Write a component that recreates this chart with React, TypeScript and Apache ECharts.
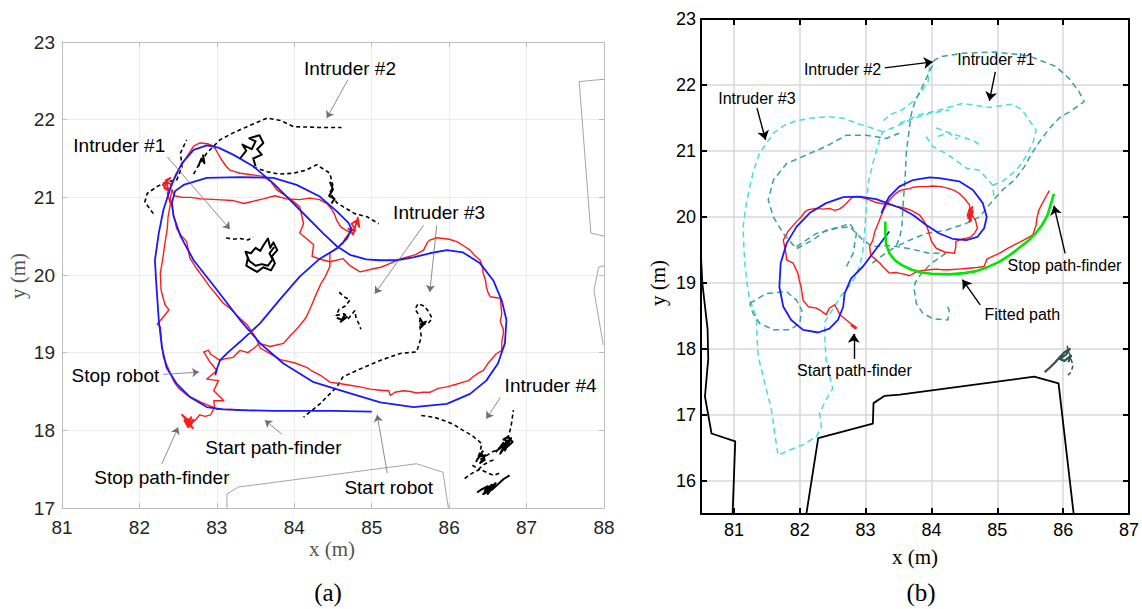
import React, { useEffect, useRef } from "react";
import * as echarts from "echarts";

type P = [number, number];

// ---------- Panel (a) ----------
const xTicksA = [81, 82, 83, 84, 85, 86, 87, 88];
const yTicksA = [17, 18, 19, 20, 21, 22, 23];

const blueA: P[] = [
  [85.0, 18.24], [84.5, 18.25], [84.0, 18.25], [83.73, 18.25], [83.3, 18.26], [83.08, 18.27], [82.87, 18.3],
  [82.65, 18.43], [82.48, 18.6], [82.35, 18.81], [82.29, 19.07], [82.25, 19.42], [82.22, 19.85], [82.2, 20.19],
  [82.25, 20.54], [82.31, 20.84], [82.42, 21.18], [82.55, 21.44], [82.7, 21.61], [82.87, 21.67], [83.02, 21.64],
  [83.21, 21.55], [83.47, 21.4], [83.73, 21.18], [83.94, 20.97], [84.16, 20.75], [84.37, 20.54], [84.55, 20.37],
  [84.72, 20.26], [84.93, 20.2], [85.1, 20.19], [85.32, 20.19], [85.55, 20.23], [85.75, 20.28], [85.97, 20.32],
  [86.18, 20.29], [86.4, 20.15], [86.57, 19.93], [86.68, 19.67], [86.74, 19.42], [86.72, 19.12], [86.63, 18.86],
  [86.48, 18.64], [86.27, 18.47], [85.97, 18.34], [85.54, 18.3], [85.11, 18.36], [84.68, 18.49], [84.25, 18.62],
  [83.86, 18.86], [83.56, 19.12], [83.3, 19.42], [83.0, 19.81], [82.7, 20.19], [82.53, 20.5], [82.44, 20.76],
  [82.42, 20.93], [82.46, 21.08], [82.57, 21.16], [82.87, 21.25], [83.3, 21.26], [83.73, 21.25], [84.03, 21.16],
  [84.33, 21.01], [84.55, 20.82], [84.7, 20.67], [84.74, 20.59], [84.68, 20.47], [84.55, 20.34], [84.33, 20.21],
  [84.07, 19.98], [83.81, 19.68], [83.56, 19.38], [83.3, 19.14], [83.13, 18.99], [83.04, 18.9], [83.0, 18.79],
  [82.98, 18.71],
];

const redA1: P[] = [
  [83.4, 18.26], [83.2, 18.27], [83.0, 18.27], [82.95, 18.3], [82.8, 18.36], [82.62, 18.45], [82.5, 18.55],
  [82.45, 18.62], [82.4, 18.73], [82.35, 18.85], [82.31, 18.94], [82.29, 19.1], [82.27, 19.33], [82.23, 19.37],
  [82.3, 19.45], [82.38, 19.55], [82.33, 19.62], [82.28, 19.8], [82.27, 20.02], [82.3, 20.2], [82.33, 20.41],
  [82.36, 20.6], [82.37, 20.75], [82.4, 20.92], [82.36, 21.05], [82.42, 21.16], [82.47, 21.3], [82.55, 21.42],
  [82.63, 21.55], [82.7, 21.66], [82.78, 21.7], [82.88, 21.69], [82.96, 21.66], [83.0, 21.59], [83.05, 21.5],
  [83.12, 21.4], [83.17, 21.35], [83.3, 21.31], [83.45, 21.29], [83.6, 21.27], [83.7, 21.2], [83.77, 21.1],
  [83.92, 21.0], [84.07, 20.88], [84.12, 20.66], [84.07, 20.54], [84.18, 20.45], [84.25, 20.39], [84.23, 20.24],
  [84.35, 20.2], [84.46, 20.17], [84.63, 20.21], [84.72, 20.12], [84.85, 20.04], [85.02, 20.08], [85.12, 20.1],
  [85.24, 20.15], [85.35, 20.2], [85.45, 20.23], [85.56, 20.26], [85.67, 20.32], [85.72, 20.42], [85.75, 20.45],
  [85.84, 20.48], [85.92, 20.47], [86.0, 20.46], [86.1, 20.43], [86.18, 20.38], [86.27, 20.32], [86.33, 20.25],
  [86.4, 20.19], [86.43, 20.1], [86.44, 20.02], [86.47, 19.93], [86.48, 19.85], [86.5, 19.78], [86.53, 19.72],
  [86.66, 19.7], [86.67, 19.6], [86.68, 19.5], [86.66, 19.4], [86.7, 19.3], [86.7, 19.25], [86.68, 19.14],
  [86.68, 19.03], [86.6, 18.98], [86.57, 18.94], [86.5, 18.86], [86.44, 18.77], [86.38, 18.74], [86.31, 18.69],
  [86.25, 18.64], [86.18, 18.62], [86.08, 18.59], [85.97, 18.56], [85.86, 18.54], [85.75, 18.49], [85.66, 18.49],
  [85.58, 18.48], [85.5, 18.5], [85.41, 18.51], [85.3, 18.49], [85.24, 18.45], [85.22, 18.51], [85.19, 18.51],
  [85.08, 18.52], [84.98, 18.53], [84.85, 18.56], [84.72, 18.58], [84.6, 18.6], [84.46, 18.62], [84.35, 18.7],
  [84.22, 18.77], [84.16, 18.81], [84.0, 18.87], [83.82, 18.91], [83.68, 18.99], [83.56, 19.06], [83.5, 19.2],
  [83.39, 19.36], [83.3, 19.44], [83.17, 19.57], [83.08, 19.64], [83.0, 19.74], [82.9, 19.86], [82.83, 19.96],
  [82.74, 20.08], [82.65, 20.22], [82.63, 20.33], [82.61, 20.43], [82.53, 20.52], [82.48, 20.6], [82.46, 20.7],
  [82.44, 20.77], [82.42, 20.88], [82.4, 20.99], [82.42, 21.1],
];
const redA2: P[] = [
  [82.42, 21.1], [82.45, 21.02], [82.55, 21.0], [82.66, 21.0], [82.8, 20.98], [83.0, 20.97], [83.2, 20.96],
  [83.35, 20.92], [83.43, 20.94], [83.6, 20.98], [83.75, 21.02], [83.9, 20.98], [84.07, 20.97], [84.2, 20.99],
  [84.33, 20.97], [84.42, 20.92], [84.48, 20.85], [84.52, 20.78], [84.55, 20.7], [84.6, 20.62], [84.66, 20.58],
  [84.72, 20.55],
];
const redA3: P[] = [
  [84.72, 20.55], [84.65, 20.46], [84.63, 20.41], [84.55, 20.35], [84.46, 20.28], [84.46, 20.11], [84.4, 19.98],
  [84.35, 19.9], [84.29, 19.77], [84.22, 19.6], [84.15, 19.45], [84.03, 19.3], [83.95, 19.22], [83.86, 19.12],
  [83.69, 19.08], [83.55, 19.12], [83.47, 19.05], [83.4, 19.0], [83.3, 19.03], [83.21, 18.94], [83.1, 18.92],
  [83.04, 18.9], [82.92, 18.98], [82.89, 19.03], [82.83, 19.01], [82.91, 18.88], [83.0, 18.77], [82.87, 18.66],
  [83.02, 18.64], [82.96, 18.51], [83.09, 18.38], [82.96, 18.38], [82.97, 18.3], [82.92, 18.2], [82.85, 18.18],
  [82.78, 18.2], [82.72, 18.13], [82.68, 18.1],
];
const redBlobsA: P[][] = [
  [[82.68, 18.1], [82.6, 18.16], [82.55, 18.2], [82.62, 18.12], [82.66, 18.05], [82.7, 18.14], [82.64, 18.08],
    [82.69, 18.03], [82.61, 18.1], [82.67, 18.17], [82.63, 18.04], [82.58, 18.13], [82.66, 18.11], [82.62, 18.07]],
  [[82.42, 21.16], [82.35, 21.2], [82.32, 21.12], [82.38, 21.08], [82.34, 21.22], [82.4, 21.25], [82.3, 21.16],
    [82.37, 21.1]],
  [[84.72, 20.55], [84.78, 20.6], [84.74, 20.66], [84.8, 20.7], [84.84, 20.62], [84.82, 20.74], [84.76, 20.52],
    [84.7, 20.6], [84.8, 20.57]],
];

const blackDashA: P[][] = [
  [[82.18, 20.79], [82.07, 20.94], [82.1, 21.05], [82.23, 21.14], [82.35, 21.2], [82.48, 21.22], [82.55, 21.39],
    [82.53, 21.57], [82.61, 21.74]],
  [[82.7, 21.3], [82.78, 21.44], [82.87, 21.57], [83.04, 21.74], [83.21, 21.83], [83.39, 21.91], [83.65, 22.02],
    [83.82, 21.99], [83.99, 21.91], [84.33, 21.9], [84.61, 21.9]],
  [[83.47, 21.39], [83.65, 21.33], [83.8, 21.3], [83.99, 21.31], [84.15, 21.35], [84.29, 21.42], [84.46, 21.31],
    [84.5, 21.14], [84.46, 21.06], [84.55, 20.93], [84.63, 20.88], [84.78, 20.79], [84.94, 20.75], [85.09, 20.66]],
  [[83.12, 20.48], [83.2, 20.46], [83.3, 20.47], [83.4, 20.45], [83.47, 20.49]],
  [[84.58, 19.78], [84.64, 19.72], [84.72, 19.68], [84.66, 19.6], [84.58, 19.56], [84.54, 19.48], [84.64, 19.5],
    [84.7, 19.44], [84.78, 19.54], [84.8, 19.44], [84.84, 19.36], [84.86, 19.3]],
  [[85.6, 19.5], [85.56, 19.56], [85.6, 19.63], [85.68, 19.6], [85.74, 19.52], [85.78, 19.44], [85.73, 19.38],
    [85.66, 19.36], [85.62, 19.42], [85.62, 19.37], [85.64, 19.2], [85.58, 19.01], [85.37, 18.99], [85.11, 18.9],
    [84.85, 18.79], [84.63, 18.69], [84.55, 18.56], [84.33, 18.34], [84.12, 18.17]],
  [[85.64, 18.19], [85.8, 18.17], [85.95, 18.12], [86.05, 18.08], [86.18, 18.0], [86.3, 17.93], [86.42, 17.83],
    [86.4, 17.72], [86.35, 17.6], [86.45, 17.65], [86.55, 17.72], [86.65, 17.76], [86.72, 17.82], [86.76, 17.9],
    [86.8, 18.05], [86.83, 18.26]],
  [[86.2, 17.38], [86.3, 17.45], [86.4, 17.5], [86.5, 17.45], [86.58, 17.42], [86.65, 17.45]],
  [[86.3, 17.55], [86.38, 17.5], [86.45, 17.56], [86.52, 17.6], [86.58, 17.62]],
];
const blackScribA: P[][] = [
  [[83.3, 21.5], [83.38, 21.6], [83.33, 21.68], [83.45, 21.62], [83.5, 21.72], [83.42, 21.76], [83.55, 21.8],
    [83.6, 21.7], [83.52, 21.62], [83.58, 21.55], [83.47, 21.5], [83.5, 21.4]],
  [[84.46, 21.2], [84.5, 21.1], [84.45, 21.02], [84.52, 20.98], [84.48, 20.92]],
  [[82.76, 21.4], [82.8, 21.5], [82.84, 21.44], [82.82, 21.55]],
  [[83.37, 20.3], [83.4, 20.22], [83.38, 20.12], [83.45, 20.08], [83.52, 20.04], [83.6, 20.1], [83.7, 20.06],
    [83.75, 20.15], [83.71, 20.24], [83.78, 20.32], [83.73, 20.42], [83.69, 20.35], [83.66, 20.47], [83.6, 20.38],
    [83.56, 20.31], [83.5, 20.35], [83.44, 20.28], [83.37, 20.3], [83.42, 20.18], [83.5, 20.12], [83.58, 20.14],
    [83.66, 20.12], [83.72, 20.2], [83.68, 20.28], [83.74, 20.36]],
  [[84.55, 19.45], [84.62, 19.42], [84.68, 19.46], [84.6, 19.4], [84.66, 19.5]],
  [[85.62, 19.45], [85.66, 19.38], [85.64, 19.33], [85.7, 19.4], [85.62, 19.36]],
  [[86.6, 17.72], [86.68, 17.8], [86.72, 17.74], [86.78, 17.86], [86.7, 17.88], [86.76, 17.92], [86.82, 17.85],
    [86.74, 17.78], [86.7, 17.84], [86.64, 17.76], [86.72, 17.82], [86.8, 17.9], [86.66, 17.7], [86.74, 17.86]],
  [[86.36, 17.62], [86.42, 17.7], [86.46, 17.62], [86.4, 17.58], [86.47, 17.68], [86.38, 17.66], [86.44, 17.74]],
  [[86.36, 17.2], [86.42, 17.24], [86.5, 17.28], [86.46, 17.22], [86.55, 17.3], [86.5, 17.18], [86.6, 17.32],
    [86.52, 17.25], [86.44, 17.18], [86.56, 17.24], [86.7, 17.37], [86.78, 17.42]],
];
const wallsA: P[][] = [
  [[88.0, 22.52], [87.68, 22.49], [87.83, 20.54], [88.0, 20.5]],
  [[88.0, 20.12], [87.93, 20.1], [87.87, 19.8], [87.99, 19.1]],
  [[83.13, 17.0], [83.13, 17.18], [83.28, 17.27], [85.58, 17.57], [85.92, 17.46], [85.99, 17.0]],
];

const labelsA = [
  { text: "Intruder #2", at: [84.72, 22.66] as P, arrows: [[[84.69, 22.51], [84.42, 22.02]]] as P[][] },
  { text: "Intruder #1", at: [81.74, 21.67] as P, arrows: [[[82.36, 21.52], [83.17, 20.59]]] as P[][] },
  { text: "Intruder #3", at: [85.87, 20.81] as P, arrows: [[[85.67, 20.64], [85.04, 19.76]], [[85.84, 20.64], [85.75, 19.78]]] as P[][] },
  { text: "Stop robot", at: [81.69, 18.71] as P, arrows: [[[82.31, 18.72], [82.77, 18.75]]] as P[][] },
  { text: "Start path-finder", at: [83.73, 17.78] as P, arrows: [[[83.84, 17.95], [83.62, 18.13]]] as P[][] },
  { text: "Stop path-finder", at: [82.29, 17.39] as P, arrows: [[[82.29, 17.57], [82.5, 18.04]]] as P[][] },
  { text: "Start robot", at: [85.22, 17.26] as P, arrows: [[[85.2, 17.45], [85.07, 18.2]]] as P[][] },
  { text: "Intruder #4", at: [87.31, 18.58] as P, arrows: [[[86.66, 18.42], [86.48, 18.15]]] as P[][] },
];

// ---------- Panel (b) ----------
const xTicksB = [81, 82, 83, 84, 85, 86, 87];
const yTicksB = [16, 17, 18, 19, 20, 21, 22, 23];

const blueB: P[] = [
  [83.24, 20.06], [83.3, 20.2], [83.36, 20.31], [83.51, 20.46], [83.72, 20.56], [83.97, 20.6], [84.12, 20.59],
  [84.42, 20.54], [84.63, 20.41], [84.78, 20.21], [84.84, 20.0], [84.8, 19.83], [84.7, 19.7], [84.53, 19.65],
  [84.32, 19.67], [84.12, 19.75], [83.92, 19.88], [83.72, 20.03], [83.52, 20.14], [83.16, 20.27], [82.91, 20.31],
  [82.66, 20.3], [82.4, 20.21], [82.15, 20.06], [81.95, 19.85], [81.8, 19.6], [81.71, 19.3], [81.69, 18.94],
  [81.75, 18.64], [81.87, 18.44], [82.05, 18.29], [82.28, 18.25], [82.45, 18.31], [82.58, 18.44], [82.66, 18.64],
  [82.68, 18.84], [82.78, 19.07], [82.96, 19.25], [83.11, 19.45], [83.36, 19.78],
];
const greenB: P[] = [
  [83.3, 19.93], [83.3, 19.75], [83.31, 19.6], [83.36, 19.45], [83.45, 19.34], [83.55, 19.27], [83.7, 19.2],
  [83.85, 19.16], [84.0, 19.14], [84.27, 19.13], [84.5, 19.15], [84.68, 19.18], [84.85, 19.24], [85.03, 19.32],
  [85.2, 19.43], [85.33, 19.53], [85.47, 19.64], [85.59, 19.76], [85.68, 19.88], [85.76, 20.02], [85.86, 20.35],
];
const redB: P[] = [
  [82.86, 18.31], [82.78, 18.38], [82.71, 18.44], [82.61, 18.52], [82.53, 18.67], [82.45, 18.62], [82.4, 18.52],
  [82.32, 18.58], [82.25, 18.62], [82.13, 18.64], [82.05, 18.74], [82.02, 18.94], [81.99, 19.05], [81.97, 19.15],
  [81.9, 19.3], [81.8, 19.35], [81.79, 19.45], [81.77, 19.55], [81.75, 19.65], [81.82, 19.78], [81.88, 19.85],
  [81.95, 19.93], [82.02, 20.0], [82.08, 20.08], [82.13, 20.11], [82.25, 20.13], [82.35, 20.12], [82.45, 20.13],
  [82.53, 20.1], [82.6, 20.12], [82.66, 20.16], [82.72, 20.22], [82.76, 20.26], [82.8, 20.3], [82.86, 20.31],
  [82.96, 20.29], [83.06, 20.26], [83.16, 20.22], [83.26, 20.2], [83.36, 20.19], [83.46, 20.16], [83.57, 20.14],
  [83.67, 20.11], [83.75, 20.07], [83.82, 20.03], [83.88, 19.95], [83.92, 19.88], [83.95, 19.8], [83.97, 19.73],
  [84.0, 19.63], [84.07, 19.53], [84.13, 19.5], [84.2, 19.47], [84.28, 19.46], [84.35, 19.45], [84.37, 19.55],
  [84.37, 19.63], [84.45, 19.66], [84.53, 19.68], [84.6, 19.7], [84.65, 19.75], [84.7, 19.83], [84.68, 19.9],
  [84.67, 19.95], [84.62, 20.02], [84.6, 20.06], [84.58, 20.12], [84.58, 20.18], [84.5, 20.28], [84.42, 20.36],
  [84.35, 20.4], [84.27, 20.43], [84.15, 20.46], [84.02, 20.47], [83.92, 20.46], [83.82, 20.46], [83.72, 20.45],
  [83.67, 20.43], [83.6, 20.42], [83.52, 20.4], [83.45, 20.35], [83.41, 20.31], [83.36, 20.25], [83.31, 20.18],
  [83.27, 20.1], [83.24, 20.03], [83.19, 19.9], [83.14, 19.78], [83.11, 19.65], [83.06, 19.55], [83.08, 19.42],
  [83.16, 19.35], [83.22, 19.3], [83.26, 19.25], [83.31, 19.2], [83.36, 19.15], [83.45, 19.16], [83.51, 19.15],
  [83.6, 19.13], [83.67, 19.11], [83.72, 19.14], [83.77, 19.17], [83.87, 19.19], [83.97, 19.2], [84.07, 19.21],
  [84.17, 19.2], [84.27, 19.2], [84.4, 19.21], [84.53, 19.22], [84.65, 19.23], [84.8, 19.25], [84.84, 19.36],
  [84.92, 19.4], [85.03, 19.45], [85.15, 19.52], [85.28, 19.59], [85.4, 19.65], [85.54, 19.73], [85.59, 19.88],
  [85.6, 19.97], [85.63, 20.1], [85.68, 20.2], [85.74, 20.31], [85.79, 20.4],
];
const redBlobB: P[] = [
  [84.58, 20.12], [84.55, 20.02], [84.6, 19.95], [84.57, 20.08], [84.62, 20.15], [84.56, 19.98], [84.61, 20.05],
  [84.58, 19.93], [84.63, 20.1],
];
const redStartB: P[] = [[82.86, 18.31], [82.78, 18.37]];

const cyanB: P[][] = [
  [[83.26, 21.29], [83.0, 21.38], [82.86, 21.42], [82.65, 21.5], [82.45, 21.52], [82.2, 21.5], [81.95, 21.46],
    [81.75, 21.38], [81.6, 21.27], [81.48, 21.1], [81.39, 20.97], [81.3, 20.7], [81.24, 20.46], [81.18, 20.15],
    [81.14, 19.85], [81.15, 19.55], [81.17, 19.25], [81.2, 19.0], [81.24, 18.74], [81.3, 18.6], [81.34, 18.49],
    [81.35, 18.2], [81.37, 17.88], [81.47, 17.48], [81.57, 17.08], [81.62, 16.72], [81.67, 16.39], [81.85, 16.47],
    [82.05, 16.55], [82.25, 16.67], [82.33, 16.82], [82.3, 17.03], [82.4, 17.23], [82.5, 17.4], [82.45, 17.61],
    [82.4, 17.83], [82.38, 18.19], [82.38, 18.41], [82.5, 18.6], [82.62, 18.8], [82.75, 18.95], [82.85, 19.1],
    [82.92, 19.3], [82.96, 19.5], [82.99, 19.85], [83.01, 20.16], [83.04, 20.51], [83.11, 20.81], [83.21, 21.17],
    [83.26, 21.29], [83.46, 21.37], [83.67, 21.47], [83.97, 21.57], [84.27, 21.62]],
  [[83.97, 22.28], [83.95, 22.05], [83.85, 21.9], [83.72, 21.75], [83.55, 21.62], [83.37, 21.55], [83.26, 21.45]],
  [[83.52, 21.42], [83.82, 21.55], [84.12, 21.62], [84.47, 21.72], [84.88, 21.66], [85.23, 21.71], [85.38, 21.62],
    [85.48, 21.47], [85.59, 21.32], [85.54, 21.12], [85.43, 20.91], [85.33, 20.76], [85.23, 20.66], [85.08, 20.54],
    [84.93, 20.48]],
  [[83.92, 21.22], [84.02, 21.07], [84.22, 20.96], [84.37, 20.86], [84.53, 20.74], [84.73, 20.71], [84.93, 20.48],
    [84.95, 20.3]],
  [[84.07, 21.35], [84.2, 21.3], [84.35, 21.25], [84.5, 21.2], [84.65, 21.15], [84.72, 21.1]],
  [[84.1, 21.22], [84.25, 21.28], [84.4, 21.18]],
];
const tealB: P[][] = [
  [[83.1, 19.3], [83.3, 19.45], [83.46, 19.55], [83.52, 19.7], [83.55, 19.85], [83.57, 20.2], [83.6, 20.6],
    [83.62, 21.0], [83.66, 21.3], [83.69, 21.55], [83.75, 21.75], [83.85, 21.95], [83.97, 22.2], [84.05, 22.38],
    [84.15, 22.43], [84.47, 22.48], [84.98, 22.5], [85.48, 22.44], [85.89, 22.28], [86.09, 22.1], [86.24, 21.9],
    [86.32, 21.75], [86.14, 21.62], [85.94, 21.5], [85.79, 21.34], [85.64, 21.14], [85.51, 20.94], [85.41, 20.76],
    [85.26, 20.56], [85.08, 20.41], [84.9, 20.21], [84.73, 20.0], [84.52, 19.9], [84.22, 19.8], [83.92, 19.75],
    [83.67, 19.65], [83.46, 19.55]],
  [[82.71, 19.25], [82.81, 19.45], [82.86, 19.75], [82.76, 19.9], [82.61, 19.85], [82.4, 19.8], [82.2, 19.65],
    [81.95, 19.52], [81.75, 19.75], [81.6, 20.0], [81.52, 20.26], [81.6, 20.56], [81.8, 20.81], [82.1, 20.94],
    [82.4, 21.07], [82.71, 21.24], [83.01, 21.24], [83.31, 21.19], [83.51, 21.27]],
  [[81.24, 18.69], [81.49, 18.84], [81.8, 18.87], [81.95, 18.74], [82.03, 18.59], [82.0, 18.39], [81.85, 18.29],
    [81.6, 18.29], [81.39, 18.39], [81.29, 18.54], [81.24, 18.69]],
  [[84.22, 19.45], [84.0, 19.3], [83.85, 19.15], [83.75, 19.0], [83.74, 18.89], [83.77, 18.69], [83.87, 18.54],
    [84.02, 18.46], [84.25, 18.44], [84.27, 18.59], [84.22, 18.69]],
  [[81.95, 19.55], [82.25, 19.75], [82.56, 19.83], [82.76, 19.85], [82.96, 19.65], [83.11, 19.55], [83.36, 19.57],
    [83.67, 19.52], [83.97, 19.45], [84.22, 19.45]],
];
const slateScribB: P[] = [
  [85.72, 17.65], [85.8, 17.72], [85.88, 17.8], [85.95, 17.88], [86.02, 17.95], [86.1, 18.0], [86.05, 17.92],
  [85.95, 17.85], [86.02, 17.82], [86.12, 17.9], [86.08, 17.8],
];
const slateDashB: P[] = [[86.06, 18.05], [86.12, 17.85], [86.15, 17.75], [86.12, 17.65], [86.05, 17.58]];
const wallsB: P[][] = [
  [[80.5, 19.4], [80.52, 19.0], [80.6, 18.3], [80.61, 17.85], [80.56, 17.28], [80.66, 16.72], [81.02, 16.6], [80.98, 15.5]],
  [[82.1, 15.5], [82.28, 16.65], [83.11, 16.87], [83.12, 17.18], [83.29, 17.29], [83.52, 17.31], [85.56, 17.58],
    [85.93, 17.48], [86.16, 15.5]],
];

const labelsB = [
  { text: "Intruder #2", at: [82.65, 22.23] as P, arrows: [[[83.29, 22.26], [84.02, 22.35]]] as P[][] },
  { text: "Intruder #1", at: [84.98, 22.38] as P, arrows: [[[84.97, 22.2], [84.88, 21.76]]] as P[][] },
  { text: "Intruder #3", at: [81.35, 21.8] as P, arrows: [[[81.35, 21.65], [81.48, 21.17]]] as P[][] },
  { text: "Start path-finder", at: [82.83, 17.68] as P, arrows: [[[82.82, 17.85], [82.82, 18.23]]] as P[][] },
  { text: "Fitted path", at: [85.38, 18.52] as P, arrows: [[[84.74, 18.67], [84.47, 19.05]]] as P[][] },
  { text: "Stop path-finder", at: [86.02, 19.27] as P, arrows: [[[86.03, 19.45], [85.86, 20.17]]] as P[][] },
];

// ---------- helpers ----------
function line(data: P[], color: string, width: number, panel: number, z: number, dash?: number[]) {
  return {
    type: "line",
    xAxisIndex: panel === 0 ? 0 : 2,
    yAxisIndex: panel === 0 ? 0 : 2,
    data,
    symbol: "none",
    showSymbol: false,
    silent: true,
    z,
    lineStyle: { color, width, opacity: 1, type: dash ? dash : "solid", cap: "butt", join: "round" },
  };
}

function labelSeries(items: typeof labelsA, panel: number, fontSize: number, color: string) {
  return {
    type: "scatter",
    xAxisIndex: panel === 0 ? 0 : 2,
    yAxisIndex: panel === 0 ? 0 : 2,
    symbolSize: 1,
    itemStyle: { color: "#fff", opacity: 1 },
    silent: true,
    z: 20,
    clip: false,
    data: items.map((d) => ({ name: d.text, value: d.at })),
    label: {
      show: true,
      position: "inside",
      formatter: "{b}",
      fontSize,
      fontFamily: "Liberation Sans, Arial, sans-serif",
      color,
      opacity: 1,
      textBorderWidth: 0,
    },
  };
}

function arrowSeries(items: typeof labelsA, panel: number, color: string, width: number, size: number) {
  const data: any[] = [];
  items.forEach((d) => d.arrows.forEach((a) => data.push({ coords: a })));
  return {
    type: "lines",
    coordinateSystem: "cartesian2d",
    xAxisIndex: panel === 0 ? 0 : 2,
    yAxisIndex: panel === 0 ? 0 : 2,
    symbol: ["none", "arrow"],
    symbolSize: size,
    silent: true,
    z: 19,
    lineStyle: { color, width, opacity: 1 },
    data,
  };
}

function axisPair(
  kind: "x" | "y",
  grid: number,
  min: number,
  max: number,
  ticks: number[],
  frameColor: string,
  frameWidth: number,
  gridColor: string,
  gridWidth: number,
  labelColor: string,
  fontSize: number,
  margin: number,
  tickLen: number
) {
  const main: any = {
    type: "value",
    gridIndex: grid,
    min,
    max,
    position: kind === "x" ? "bottom" : "left",
    axisLine: { show: true, onZero: false, lineStyle: { color: frameColor, width: frameWidth } },
    axisTick: { show: true, inside: true, length: tickLen, customValues: ticks, lineStyle: { color: frameColor, width: frameWidth } },
    axisLabel: {
      show: true,
      customValues: ticks,
      color: labelColor,
      fontSize,
      margin,
      fontFamily: "Liberation Sans, Arial, sans-serif",
      showMinLabel: true,
      showMaxLabel: true,
    },
    splitLine: { show: true, lineStyle: { color: gridColor, width: gridWidth } },
  };
  const opp: any = {
    type: "value",
    gridIndex: grid,
    min,
    max,
    position: kind === "x" ? "top" : "right",
    axisLine: { show: true, onZero: false, lineStyle: { color: frameColor, width: frameWidth } },
    axisTick: { show: true, inside: true, length: tickLen, customValues: ticks, lineStyle: { color: frameColor, width: frameWidth } },
    axisLabel: { show: false },
    splitLine: { show: false },
  };
  return [main, opp];
}

export default function App() {
  const ref = useRef<HTMLDivElement>(null);
  useEffect(() => {
    const chart = echarts.init(ref.current!, null, { renderer: "svg" });
    const series: any[] = [];
    // panel a
    wallsA.forEach((w) => series.push(line(w, "#9a9a9a", 0.9, 0, 1)));
    blackDashA.forEach((d) => series.push(line(d, "#000", 1.6, 0, 3, [4, 3])));
    blackScribA.forEach((d) => series.push(line(d, "#000", 2, 0, 3)));
    [redA1, redA2, redA3].forEach((d) => series.push(line(d, "#ff1a1a", 1.4, 0, 4)));
    redBlobsA.forEach((d) => series.push(line(d, "#ff1a1a", 1.8, 0, 4)));
    series.push(line(blueA, "#1a1aff", 1.8, 0, 5));
    series.push(arrowSeries(labelsA, 0, "#707070", 0.8, 7));
    series.push(labelSeries(labelsA, 0, 19, "#000"));
    // panel b
    wallsB.forEach((w) => series.push(line(w, "#000", 1.8, 1, 1)));
    cyanB.forEach((d) => series.push(line(d, "#45dde2", 1.5, 1, 2, [6, 4])));
    tealB.forEach((d) => series.push(line(d, "#3a9ea2", 1.5, 1, 2, [6, 4])));
    series.push(line(slateScribB, "#2f5252", 2.2, 1, 2));
    series.push(line(slateDashB, "#2f5252", 1.5, 1, 2, [4, 3]));
    series.push(line(redB, "#ff1a1a", 1.4, 1, 4));
    series.push(line(redBlobB, "#ff1a1a", 2.2, 1, 4));
    series.push(line(redStartB, "#ff1a1a", 3, 1, 4));
    series.push(line(blueB, "#1a1aff", 1.8, 1, 5));
    series.push(line(greenB, "#00e600", 2.6, 1, 6));
    series.push(arrowSeries(labelsB, 1, "#000", 1.4, 9));
    series.push(labelSeries(labelsB, 1, 16, "#000"));

    const [xa, xaTop] = axisPair("x", 0, 81, 88, xTicksA, "#bdbdbd", 1, "#ececec", 1, "#262626", 19, 10, 5);
    const [ya, yaRight] = axisPair("y", 0, 17, 23, yTicksA, "#bdbdbd", 1, "#ececec", 1, "#262626", 19, 7, 5);
    const [xb, xbTop] = axisPair("x", 1, 80.5, 87, xTicksB, "#000", 2, "#d9d9d9", 1.5, "#000", 18, 7, 6);
    const [yb, ybRight] = axisPair("y", 1, 15.5, 23, yTicksB, "#000", 2, "#d9d9d9", 1.5, "#000", 18, 5, 6);

    const serif = "Liberation Serif, DejaVu Serif, serif";
    chart.setOption({
      animation: false,
      backgroundColor: "#fff",
      grid: [
        { left: 62, top: 42, width: 542, height: 466, containLabel: false },
        { left: 701, top: 19, width: 429, height: 495, containLabel: false },
      ],
      xAxis: [xa, xaTop, xb, xbTop],
      yAxis: [ya, yaRight, yb, ybRight],
      series,
      graphic: [
        { type: "text", x: 332, y: 549, style: { text: "x (m)", fontSize: 21, fontFamily: serif, fill: "#555", align: "center", verticalAlign: "middle" } },
        { type: "text", x: 18, y: 276, rotation: Math.PI / 2, style: { text: "y (m)", fontSize: 21, fontFamily: serif, fill: "#555", align: "center", verticalAlign: "middle" } },
        { type: "text", x: 328, y: 592, style: { text: "(a)", fontSize: 25, fontFamily: serif, fill: "#000", align: "center", verticalAlign: "middle" } },
        { type: "text", x: 915, y: 557, style: { text: "x (m)", fontSize: 21, fontFamily: serif, fill: "#000", align: "center", verticalAlign: "middle" } },
        { type: "text", x: 658, y: 283, rotation: Math.PI / 2, style: { text: "y (m)", fontSize: 21, fontFamily: serif, fill: "#000", align: "center", verticalAlign: "middle" } },
        { type: "text", x: 921, y: 592, style: { text: "(b)", fontSize: 25, fontFamily: serif, fill: "#000", align: "center", verticalAlign: "middle" } },
      ],
    });
    return () => chart.dispose();
  }, []);
  return <div ref={ref} style={{ position: "absolute", left: 0, top: 0, width: 1142, height: 609 }} />;
}
